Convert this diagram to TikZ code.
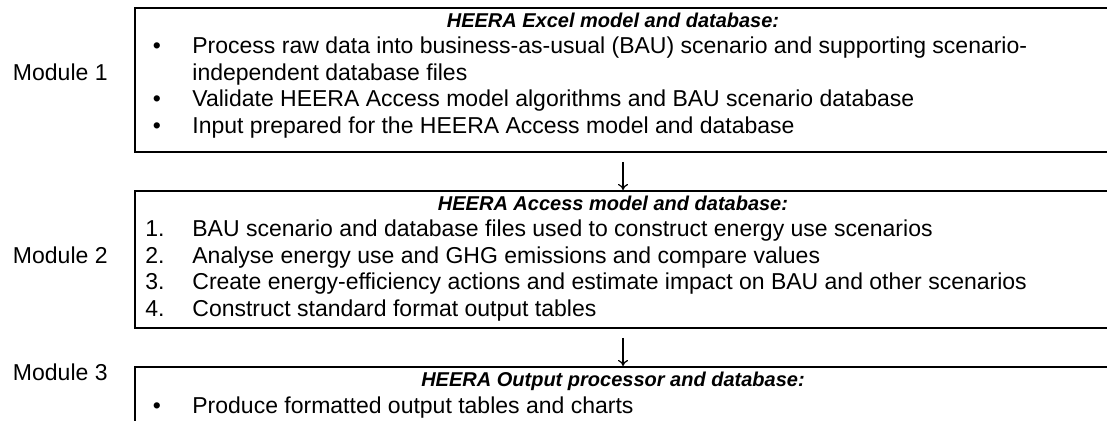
\documentclass[tikz,border=0pt]{standalone}
\usepackage{fontspec}
\setmainfont{Liberation Sans}
\usetikzlibrary{arrows.meta,positioning}
\tikzset{modbox/.style={draw,line width=1pt,anchor=north west,minimum width=500pt,inner sep=0pt},modlabel/.style={anchor=base east,inner sep=0pt},boxtitle/.style={anchor=base,inner sep=0pt,font=\bfseries\itshape},itemmark/.style={anchor=base,inner sep=0pt},itemnum/.style={anchor=base west,inner sep=0pt},itemtext/.style={anchor=base west,inner sep=0pt},flow/.style={-{To[length=3pt,width=5pt]},line width=.6pt}}

\begin{document}
\begin{tikzpicture}[x=0.5pt,y=-0.5pt,font=\fontsize{11.5}{13.25}\selectfont]
\useasboundingbox (0,0) rectangle (1107,421);
\clip (0,0) rectangle (1107,421);
% module boxes
\node[modbox,minimum height=72pt] (excel) at (134,7) {};
\node[modbox,minimum height=68.5pt] (access) at (134,190) {};
\node[modbox,minimum height=40pt] (output) at (134,366) {};
% labels left
\node[modlabel] (mod1) at (108,81) {Module 1};
\node[modlabel] (mod2) at (108,264) {Module 2};
\node[modlabel] (mod3) at (108,381) {Module 3};
% module 1
\node[boxtitle] (excelT) at (613,28) {HEERA Excel model and database:};
\node[itemmark] (e1b) at (157,54) {\textbullet};
\node[itemtext] (e1) at (192,54) {Process raw data into business-as-usual (BAU) scenario and supporting scenario-};
\node[itemtext] (e1c) at (192,81) {independent database files};
\node[itemmark] (e2b) at (157,107) {\textbullet};
\node[itemtext] (e2) at (192,107) {Validate HEERA Access model algorithms and BAU scenario database};
\node[itemmark] (e3b) at (157,134) {\textbullet};
\node[itemtext] (e3) at (192,134) {Input prepared for the HEERA Access model and database};
% module 2
\node[boxtitle] (accessT) at (613,211) {HEERA Access model and database:};
\node[itemnum] (a1n) at (145,237) {1.};
\node[itemtext] (a1) at (192,237) {BAU scenario and database files used to construct energy use scenarios};
\node[itemnum] (a2n) at (145,264) {2.};
\node[itemtext] (a2) at (192,264) {Analyse energy use and GHG emissions and compare values};
\node[itemnum] (a3n) at (145,290) {3.};
\node[itemtext] (a3) at (192,290) {Create energy-efficiency actions and estimate impact on BAU and other scenarios};
\node[itemnum] (a4n) at (145,317) {4.};
\node[itemtext] (a4) at (192,317) {Construct standard format output tables};
% module 3
\node[boxtitle] (outputT) at (613,387) {HEERA Output processor and database:};
\node[itemmark] (o1b) at (157,414) {\textbullet};
\node[itemtext] (o1) at (192,414) {Produce formatted output tables and charts};
% arrows between modules
\coordinate (go1) at (623,162);
\coordinate (go2) at (623,338);
\draw[flow] (go1) -- (go1 |- access.north);
\draw[flow] (go2) -- (go2 |- output.north);
\end{tikzpicture}
\end{document}
